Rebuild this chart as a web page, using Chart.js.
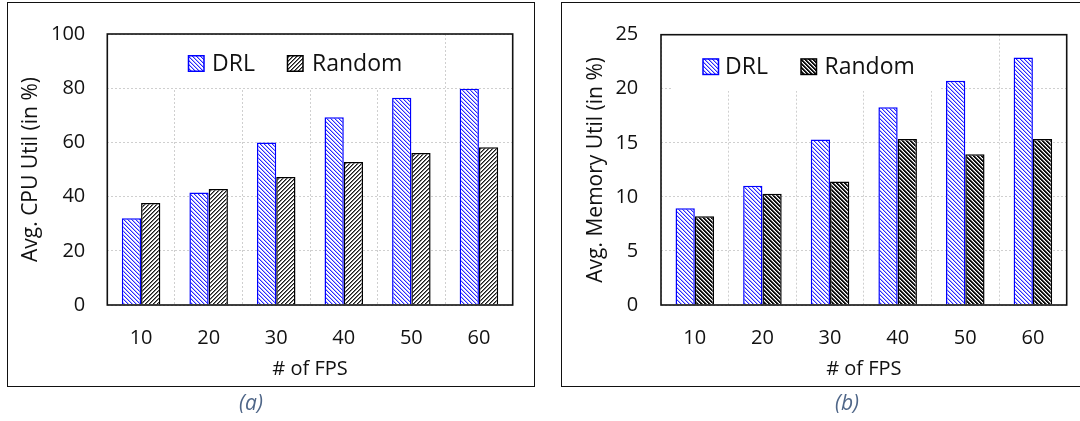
<!DOCTYPE html>
<html><head><meta charset="utf-8">
<script src="https://cdn.jsdelivr.net/npm/chart.js@4/dist/chart.umd.min.js"></script>
<style>
html,body{margin:0;padding:0;background:#fff;width:1080px;height:421px;overflow:hidden;position:relative;font-family:'Open Sans',sans-serif}
.frame{position:absolute;border:1.8px solid #111;box-sizing:border-box}
canvas{position:absolute;top:0}
.cap{position:absolute;font-style:italic;font-size:21px;color:#4f6688;transform:translate(-50%,-50%);line-height:1;white-space:nowrap}
</style></head><body>
<div class="frame" style="left:7px;top:2px;width:528px;height:385px"></div>
<div class="frame" style="left:561px;top:2px;width:540px;height:385px"></div>
<canvas id="c1" width="545" height="390" style="left:0"></canvas>
<canvas id="c2" width="535" height="390" style="left:545px"></canvas>
<div class="cap" style="left:251px;top:402px">(a)</div>
<div class="cap" style="left:847px;top:402px">(b)</div>
<script>
// ---- data ----
const categories = ['10', '20', '30', '40', '50', '60'];
const seriesLabels = ['DRL', 'Random'];
const cpuDRL = [32, 41.5, 60, 69.3, 76.5, 79.8];
const cpuRandom = [37.6, 42.8, 47.2, 52.8, 56.1, 58.2];
const memDRL = [8.95, 11.03, 15.3, 18.3, 20.75, 22.9];
const memRandom = [8.22, 10.3, 11.42, 15.36, 13.94, 15.36];
const cpuTicks = {min: 0, max: 100, step: 20};
const memTicks = {min: 0, max: 25, step: 5};
const xTitle = '# of FPS';
const cpuTitle = 'Avg. CPU Util (in %)';
const memTitle = 'Avg. Memory Util (in %)';

// ---- styles ----
Chart.defaults.font.family = "'Open Sans', sans-serif";
Chart.defaults.color = '#111';

function tile(fn) {
  const c = document.createElement('canvas');
  c.width = 4; c.height = 4;
  const x = c.getContext('2d');
  const img = x.createImageData(4, 4);
  for (let j = 0; j < 4; j++) for (let i = 0; i < 4; i++) {
    const col = fn(i, j);
    const k = (j * 4 + i) * 4;
    img.data[k] = col[0]; img.data[k+1] = col[1]; img.data[k+2] = col[2]; img.data[k+3] = 255;
  }
  x.putImageData(img, 0, 0);
  return x.createPattern(c, 'repeat');
}
const pctx = document.createElement('canvas').getContext('2d');
function patDRL() {
  return tile((i, j) => { const d = (i - j + 8) % 4; return d === 0 ? [40,40,255] : d === 1 ? [175,175,255] : [255,255,255]; });
}
function patRandA() {
  return tile((i, j) => { const d = (i + j) % 4; return d === 0 ? [25,25,25] : d === 1 ? [120,120,120] : [255,255,255]; });
}
function patRandB() {
  return tile((i, j) => { const d = (i - j + 8) % 4; return d === 0 || d === 1 ? [15,15,15] : d === 2 ? [140,140,140] : [255,255,255]; });
}

const decor = {
  id: 'decor',
  beforeDatasetsDraw(chart, args, o) {
    const ctx = chart.ctx;
    ctx.save();
    ctx.fillStyle = '#fff';
    ctx.fillRect(o.box[0], o.box[1], o.box[2] - o.box[0], o.box[3] - o.box[1]);
    chart.data.datasets.forEach((ds, i) => {
      const it = o.items[i];
      const s = o.size;
      ctx.fillStyle = ds.backgroundColor;
      ctx.fillRect(it.x, o.y - s / 2, s, s);
      ctx.lineWidth = 1.5;
      ctx.strokeStyle = ds.borderColor;
      ctx.strokeRect(it.x, o.y - s / 2, s, s);
      ctx.fillStyle = '#111';
      ctx.font = o.font;
      ctx.textBaseline = 'middle';
      ctx.textAlign = 'left';
      ctx.fillText(ds.label, it.tx, o.y + 1);
    });
    ctx.restore();
  },
  afterDatasetsDraw(chart) {
    const a = chart.chartArea, ctx = chart.ctx;
    ctx.save();
    ctx.strokeStyle = '#111';
    ctx.lineWidth = 1.6;
    ctx.strokeRect(a.left, a.top, a.right - a.left, a.bottom - a.top);
    ctx.restore();
  }
};

function makeChart(id, drl, rnd, ticks, yTitle, rndPat, L) {
  return new Chart(document.getElementById(id), {
    type: 'bar',
    data: {
      labels: categories,
      datasets: [
        {label: seriesLabels[0], data: drl, backgroundColor: patDRL(), borderColor: '#0000ff', borderWidth: 1.5},
        {label: seriesLabels[1], data: rnd, backgroundColor: rndPat, borderColor: '#000', borderWidth: 1.5}
      ]
    },
    options: {
      responsive: false,
      animation: false,
      events: [],
      layout: {padding: {top: 30, right: L.padRight, left: 0, bottom: 0}},
      datasets: {bar: {categoryPercentage: 0.57, barPercentage: 1.0}},
      plugins: {
        legend: {display: false},
        tooltip: {enabled: false},
        decor: L.legend
      },
      scales: {
        x: {
          grid: {color: '#cfcfcf', lineWidth: 1, drawTicks: false},
          border: {display: false, dash: [2, 2]},
          ticks: {font: {size: 20}, padding: 21, color: '#111'},
          title: {display: true, text: xTitle, font: {size: 20}, color: '#111', padding: {top: 0, bottom: 8.5}},
          afterFit(s) { s.height = L.xHeight; }
        },
        y: {
          min: ticks.min, max: ticks.max,
          grid: {color: '#cfcfcf', lineWidth: 1, drawTicks: false},
          border: {display: false, dash: [2, 2]},
          ticks: {stepSize: ticks.step, font: {size: 20}, padding: L.tickPad, color: '#111'},
          title: {display: true, text: yTitle, font: {size: 21}, color: '#111', padding: {top: L.yTitlePad, bottom: 0}},
          afterFit(s) { s.width = L.yWidth; }
        }
      }
    },
    plugins: [decor]
  });
}

makeChart('c1', cpuDRL, cpuRandom, cpuTicks, cpuTitle, patRandA(), {
  padRight: 32.3, yWidth: 107.3, xHeight: 85, tickPad: 22, yTitlePad: 18.4,
  legend: {box: [152, 35, 430, 88], y: 63.5, size: 15.5, font: "23px 'Open Sans', sans-serif",
           items: [{x: 188.5, tx: 212}, {x: 287.5, tx: 312}]}
});
makeChart('c2', memDRL, memRandom, memTicks, memTitle, patRandB(), {
  padRight: 13.3, yWidth: 116, xHeight: 85, tickPad: 22.7, yTitlePad: 38.9,
  legend: {box: [127, 34, 396, 91], y: 66.7, size: 15.5, font: "23px 'Open Sans', sans-serif",
           items: [{x: 158, tx: 180}, {x: 256, tx: 279.5}]}
});
</script>
</body></html>
